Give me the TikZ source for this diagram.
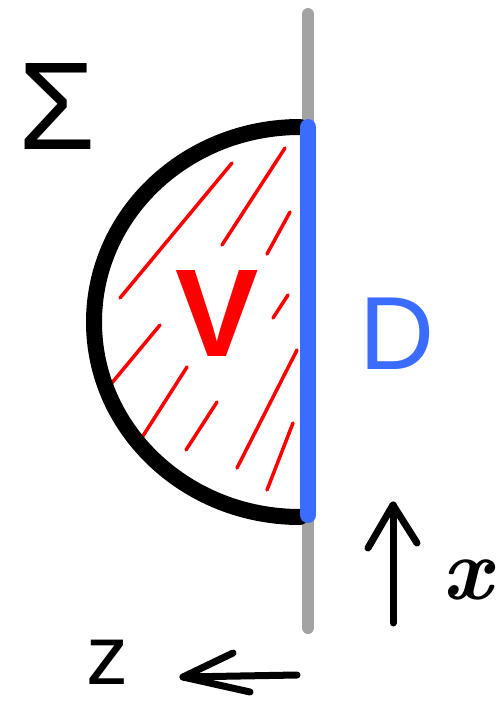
\documentclass[tikz,border=0pt]{standalone}
\usepackage{fontspec}
\setmainfont{Liberation Sans}
\newfontfamily\lmfont{Latin Modern Roman}
\definecolor{rulegray}{HTML}{A3A3A3}
\definecolor{dblue}{HTML}{3A6CFF}
\definecolor{vred}{HTML}{FF0000}
\begin{document}
\begin{tikzpicture}[x=1pt,y=-1pt,
  hatch/.style={vred,line width=3.5pt,line cap=round},
  arrowstroke/.style={black,line width=7pt,line cap=round,line join=round},
  lbl/.style={inner sep=0pt,anchor=center}]
\path[use as bounding box] (0,0) rectangle (499,704);
% gray axis
\coordinate (gtop) at (308,14);
\coordinate (gbot) at (308,628);
\draw[rulegray,line width=12pt,line cap=round] (gtop) -- (gbot);
% hatching
\draw[hatch] (120,298) -- (232,163);
\draw[hatch] (222,245) -- (285,148);
\draw[hatch] (267,254) -- (290,212);
\draw[hatch] (273,318) -- (288,295);
\draw[hatch] (111,384) -- (160,325);
\draw[hatch] (141,439) -- (187,367);
\draw[hatch] (186,450) -- (217,402);
\draw[hatch] (237,468) -- (297,350);
\draw[hatch] (267,490) -- (293,423);
% black half-circle
\coordinate (atop) at (300,127);
\draw[black,line width=16pt,line cap=round] (atop) arc[start angle=-90,end angle=-270,x radius=206,y radius=195];
% blue segment
\coordinate (btop) at (308,127);
\coordinate (bbot) at (308,515);
\draw[dblue,line width=16pt,line cap=round] (btop) -- (bbot);
% labels
\node[lbl,font=\fontsize{125}{125}\selectfont] (sigma) at (57,106) {Σ};
\node[lbl,vred,font=\fontsize{125}{125}\selectfont\bfseries] (V) at (217,313) {V};
\node[lbl,dblue,font=\fontsize{104}{104}\selectfont] (D) at (397,334) {D};
\node[lbl,font=\fontsize{88}{88}\selectfont\lmfont\bfseries\itshape] (x) at (467,580) {x};
\node[lbl,font=\fontsize{84}{84}\selectfont] (z) at (107,662) {z};
% arrows
\coordinate (xa0) at (393,623);
\coordinate (xa1) at (393,505);
\draw[arrowstroke] (xa0) -- (xa1);
\draw[arrowstroke] (368,548) -- (xa1) -- (417,543);
\coordinate (za0) at (297,675);
\coordinate (za1) at (183,677);
\draw[arrowstroke] (za0) -- (za1);
\draw[arrowstroke] (233,653) -- (za1) -- (250,692);
\end{tikzpicture}
\end{document}
